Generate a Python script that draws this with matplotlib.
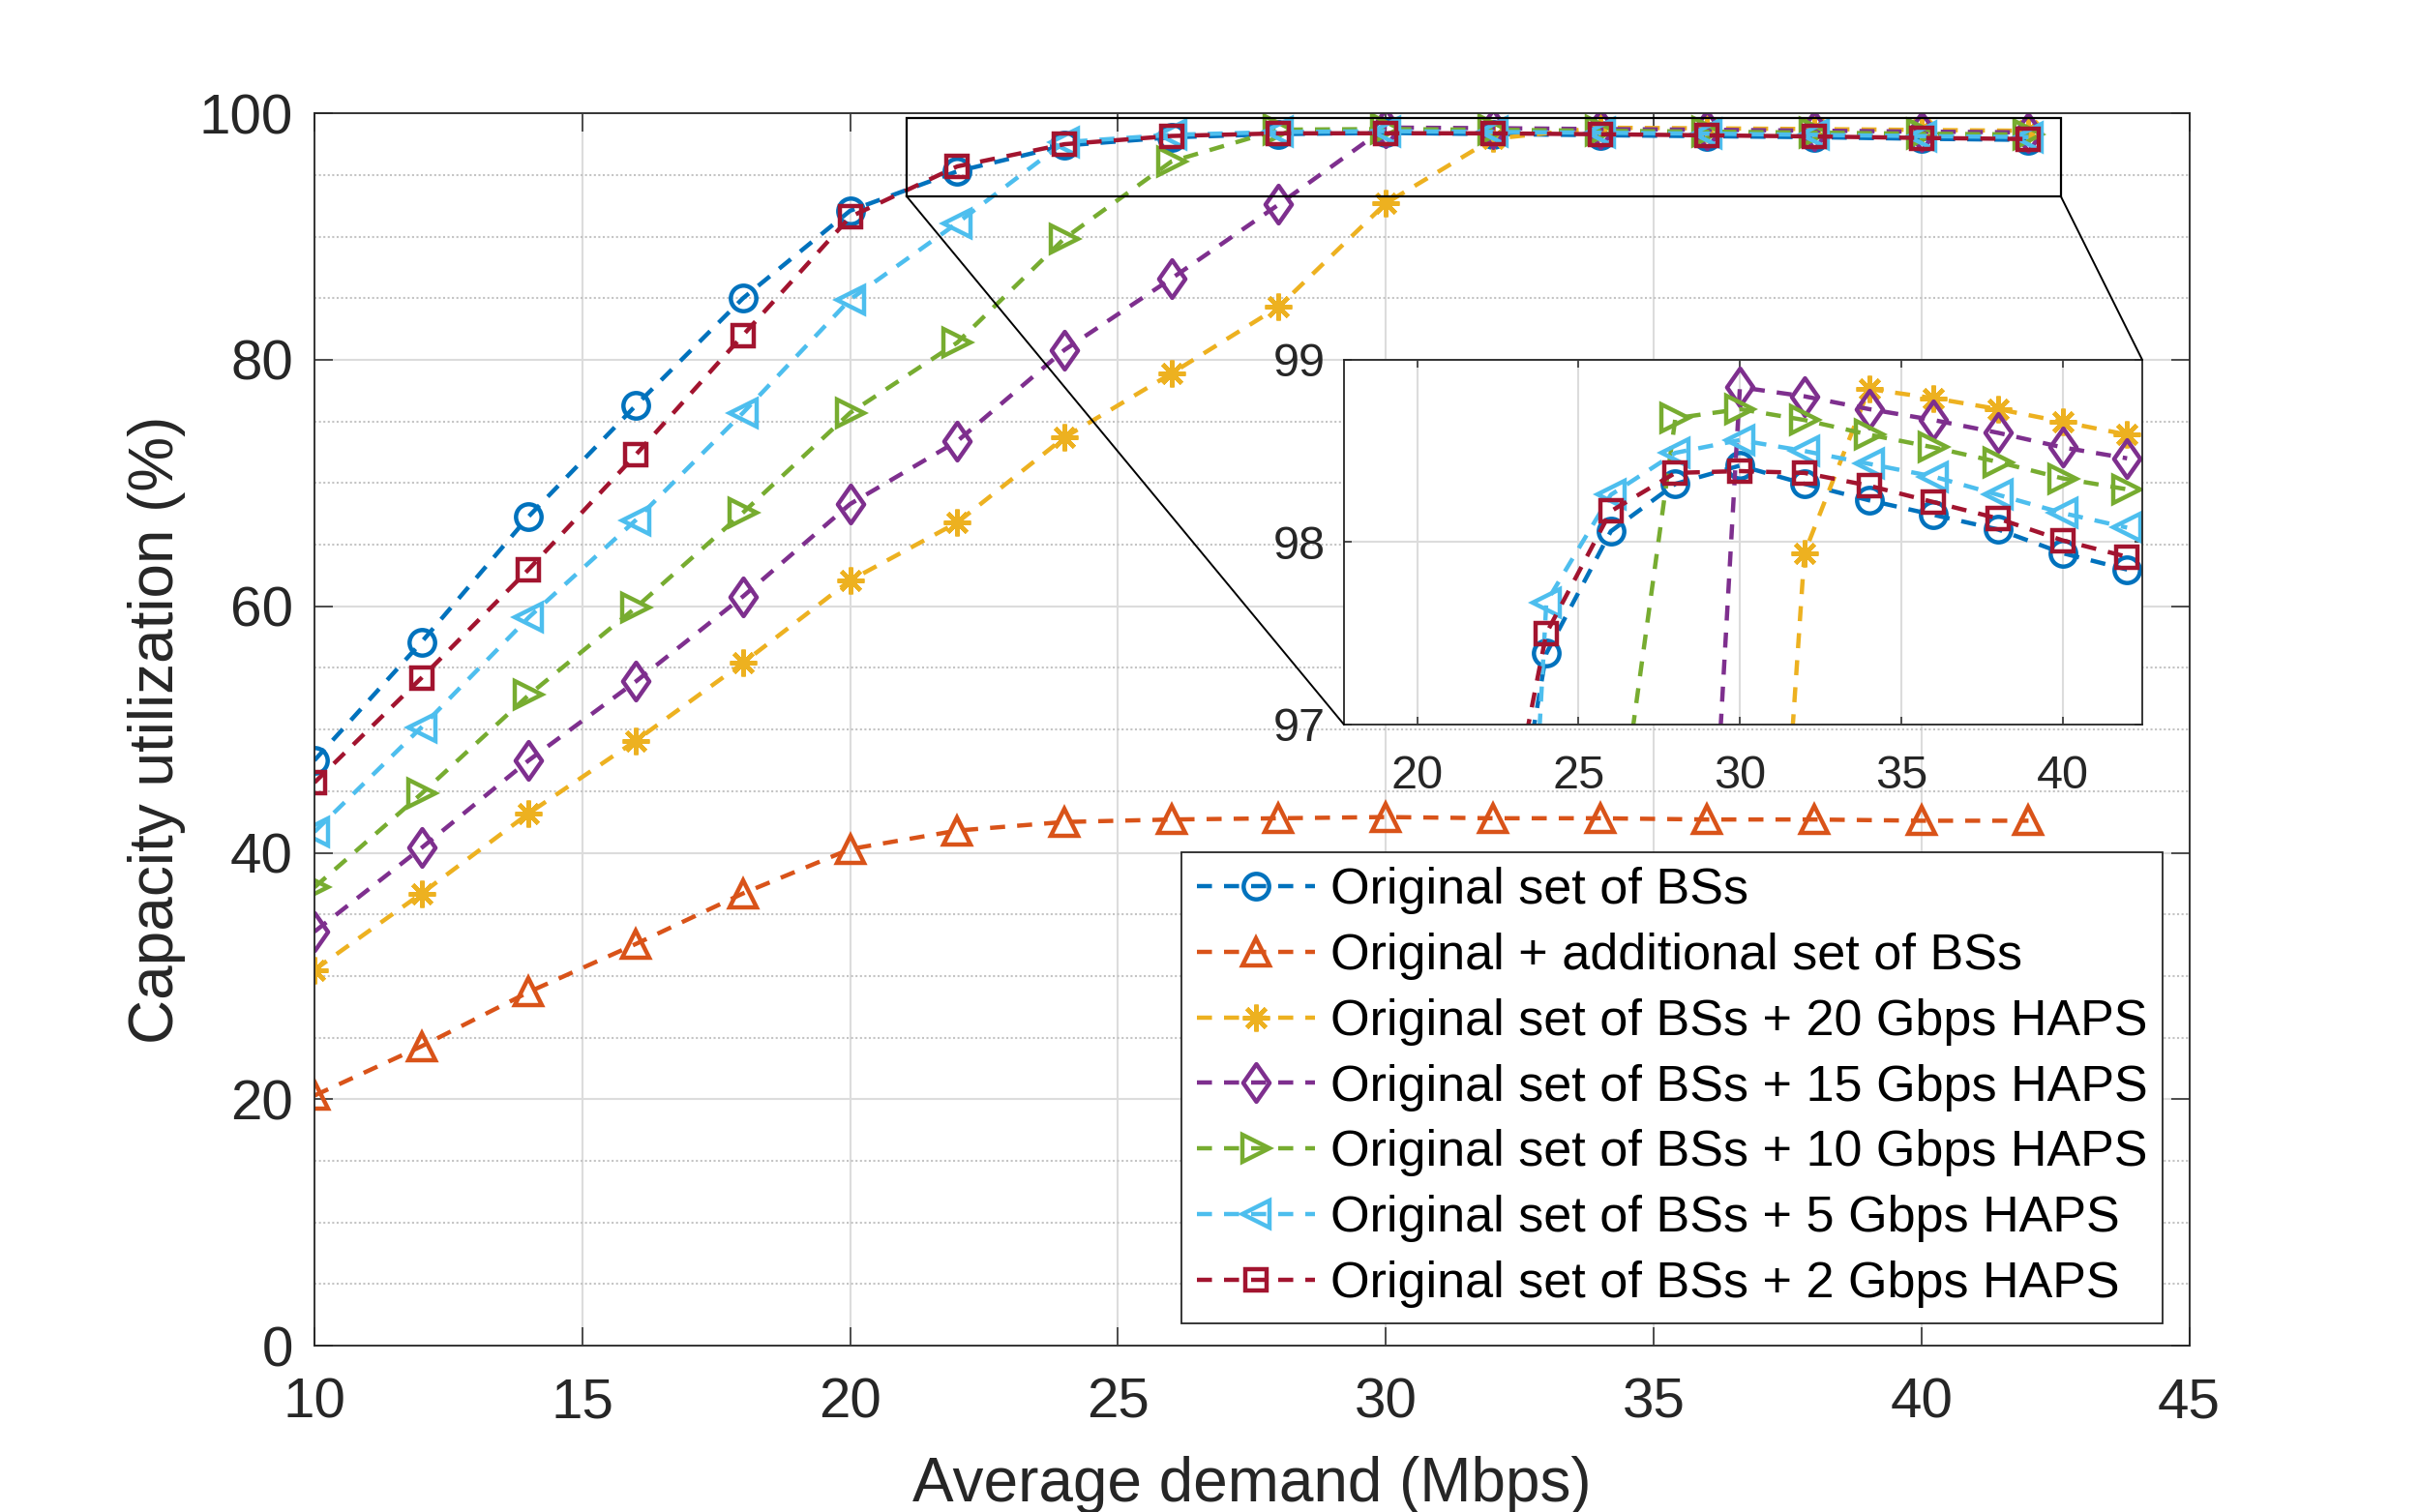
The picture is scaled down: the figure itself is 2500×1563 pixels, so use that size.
import numpy as np
import matplotlib
matplotlib.use('Agg')
import matplotlib.pyplot as plt
from matplotlib.path import Path
from matplotlib.patches import Rectangle, ConnectionPatch
from matplotlib.ticker import MultipleLocator

plt.rcParams['font.family'] = ['Liberation Sans', 'DejaVu Sans']

# ---------------- data ----------------
demand = [10, 12, 14, 16, 18, 20, 22, 24, 26, 28, 30, 32, 34, 36, 38, 40, 42]

labels = [
    'Original set of BSs',
    'Original + additional set of BSs',
    'Original set of BSs + 20 Gbps HAPS',
    'Original set of BSs + 15 Gbps HAPS',
    'Original set of BSs + 10 Gbps HAPS',
    'Original set of BSs + 5 Gbps HAPS',
    'Original set of BSs + 2 Gbps HAPS',
]

util_orig = [47.5, 57.1, 67.3, 76.3, 85.0, 92.1, 95.3, 97.39, 98.06, 98.32, 98.42,
             98.32, 98.23, 98.15, 98.07, 97.94, 97.85]
util_additional = [20.3, 24.3, 28.7, 32.6, 36.7, 40.3, 41.8, 42.5, 42.7, 42.8, 42.9,
                   42.8, 42.8, 42.7, 42.7, 42.6, 42.6]
util_haps20 = [30.5, 36.7, 43.2, 49.1, 55.4, 62.1, 66.8, 73.7, 78.9, 84.3, 92.7,
               97.94, 98.84, 98.79, 98.73, 98.66, 98.59]
util_haps15 = [33.6, 40.4, 47.5, 53.9, 60.8, 68.3, 73.4, 80.8, 86.6, 92.6, 98.85,
               98.80, 98.73, 98.67, 98.60, 98.52, 98.46]
util_haps10 = [37.2, 44.8, 52.8, 59.9, 67.6, 75.7, 81.4, 89.85, 96.1, 98.68, 98.73,
               98.67, 98.59, 98.52, 98.44, 98.35, 98.29]
util_haps5 = [41.7, 50.2, 59.1, 67.0, 75.7, 84.9, 91.1, 97.67, 98.26, 98.49, 98.56,
              98.50, 98.43, 98.36, 98.26, 98.16, 98.08]
util_haps2 = [45.7, 54.2, 63.0, 72.3, 82.0, 91.6, 95.7, 97.50, 98.17, 98.38, 98.39,
              98.38, 98.31, 98.22, 98.13, 98.01, 97.92]

series = [util_orig, util_additional, util_haps20, util_haps15,
          util_haps10, util_haps5, util_haps2]

# ---------------- styles ----------------
colors = [(0.000, 0.447, 0.741), (0.850, 0.325, 0.098), (0.929, 0.694, 0.125),
          (0.494, 0.184, 0.556), (0.466, 0.674, 0.188), (0.301, 0.745, 0.933),
          (0.635, 0.078, 0.184)]
diamond = Path([(0, 1), (0.7, 0), (0, -1), (-0.7, 0), (0, 1)],
               [Path.MOVETO, Path.LINETO, Path.LINETO, Path.LINETO, Path.CLOSEPOLY])
markers = ['o', '^', (8, 2, 0), diamond, '>', '<', 's']
msizes = [19, 20, 20, 28, 20, 20, 16]

AXC = (0.15, 0.15, 0.15)
LW = 3.2
DASH = (3.5, 2.8)


def draw(axis):
    hs = []
    for y, c, m, ms, lab in zip(series, colors, markers, msizes, labels):
        h, = axis.plot(demand, y, linestyle='--', dashes=DASH, color=c, lw=LW,
                       marker=m, ms=ms, mfc='none', mec=c, mew=LW, label=lab)
        hs.append(h)
    return hs


fig = plt.figure(figsize=(25, 15.63), dpi=100)
ax = fig.add_axes([0.13, 0.11, 0.775, 0.815])
handles = draw(ax)

ax.set_xlim(10, 45)
ax.set_ylim(0, 100)
ax.xaxis.set_major_locator(MultipleLocator(5))
ax.yaxis.set_major_locator(MultipleLocator(20))
ax.yaxis.set_minor_locator(MultipleLocator(5))
ax.grid(True, which='major', color='#dcdcdc', lw=1.5, ls='-')
ax.grid(True, which='minor', axis='y', color='#c4c4c4', lw=1.5, ls=(0, (1, 1.2)))
ax.grid(False, which='minor', axis='x')
ax.set_axisbelow(True)
ax.tick_params(which='major', direction='in', length=14, width=1.1, top=True, right=True,
               labelsize=42, colors=AXC)
ax.tick_params(axis='x', which='major', pad=23)
ax.tick_params(axis='y', which='major', pad=16)
ax.tick_params(which='minor', length=0)
for s in ax.spines.values():
    s.set_color(AXC)
    s.set_linewidth(1.3)
ax.set_xlabel('Average demand (Mbps)', fontsize=46, color=AXC, labelpad=20)
ax.set_ylabel('Capacity utilization (%)', fontsize=46, color=AXC, labelpad=10)

leg = ax.legend(handles=handles, loc='upper right', bbox_to_anchor=(0.894, 0.4365),
                bbox_transform=fig.transFigure, borderaxespad=0, fontsize=37.5,
                frameon=True, fancybox=False, framealpha=1, edgecolor=AXC,
                handlelength=2.35, handletextpad=0.3, labelspacing=0.36,
                borderpad=0.3)
leg.get_frame().set_linewidth(1.3)

# zoom box on main axes
x0, x1, y0, y1 = 21.05, 42.6, 93.3, 99.6
ax.add_patch(Rectangle((x0, y0), x1 - x0, y1 - y0, fill=False, ec='black', lw=1.6,
                       zorder=10, clip_on=False))

# inset
axin = fig.add_axes([0.5556, 0.5208, 0.33, 0.2412])
axin.set_facecolor('white')
draw(axin)
axin.set_xlim(17.73, 42.47)
axin.set_ylim(97, 99)
axin.xaxis.set_major_locator(MultipleLocator(5))
axin.yaxis.set_major_locator(MultipleLocator(1))
axin.grid(True, color='#dcdcdc', lw=1.5)
axin.set_axisbelow(True)
axin.tick_params(direction='in', length=6, width=1.1, top=True, right=True,
                 labelsize=35, colors=AXC)
axin.tick_params(axis='x', pad=22)
axin.tick_params(axis='y', pad=14)
for s in axin.spines.values():
    s.set_color(AXC)
    s.set_linewidth(1.3)

for xa, xb in [((x0, y0), (0, 0)), ((x1, y0), (1, 1))]:
    cp = ConnectionPatch(xyA=xa, coordsA=ax.transData, xyB=xb, coordsB=axin.transAxes,
                         color='black', lw=1.4, zorder=20)
    fig.add_artist(cp)

fig.savefig('out.png', dpi=100)
